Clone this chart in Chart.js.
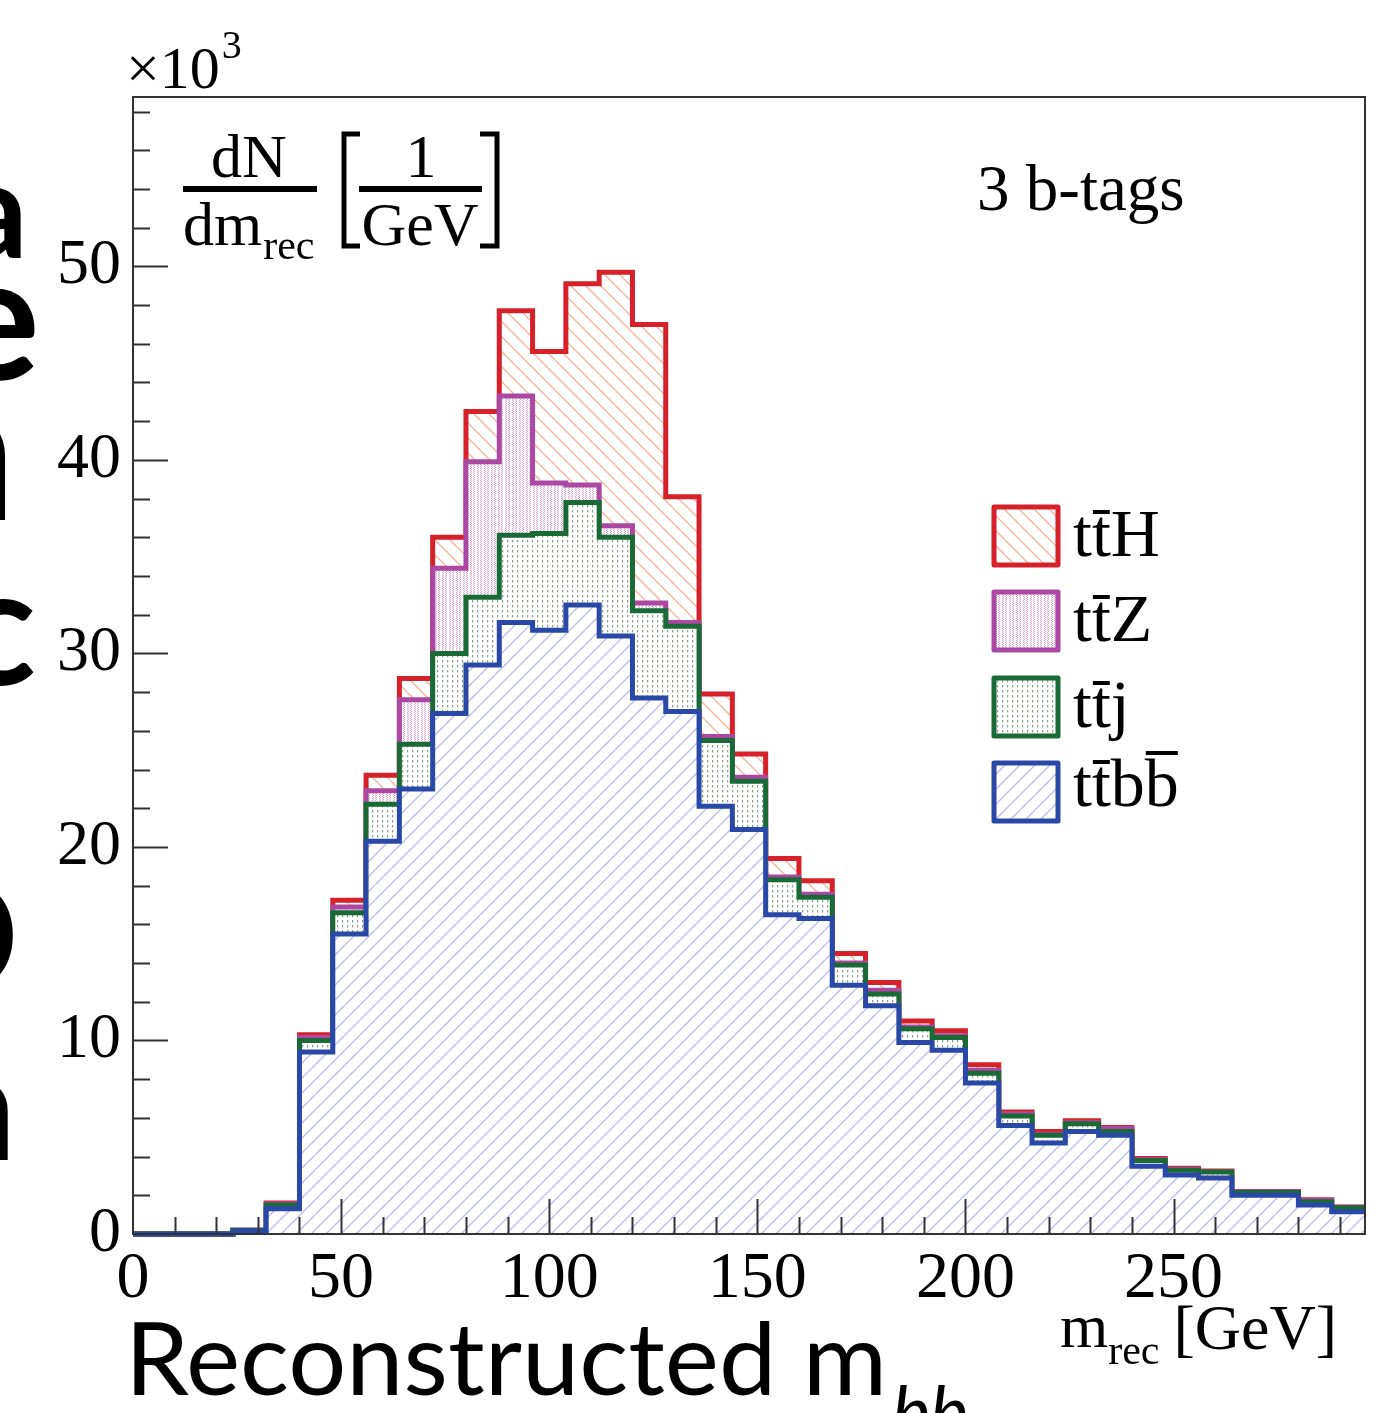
<!DOCTYPE html>
<html>
<head>
<meta charset="utf-8">
<script src="https://cdn.jsdelivr.net/npm/chart.js@4.4.1/dist/chart.umd.min.js"></script>
<style>
html, body { margin: 0; padding: 0; background: #fff; }
#wrap { width: 1387px; height: 1413px; position: relative; }
</style>
</head>
<body>
<div id="wrap"><canvas id="histo"></canvas></div>
<script>
// bin edges of m_rec in GeV (8 GeV bins)
const binEdges = [0, 8, 16, 24, 32, 40, 48, 56, 64, 72, 80, 88, 96, 104, 112, 120, 128, 136, 144,
    152, 160, 168, 176, 184, 192, 200, 208, 216, 224, 232, 240, 248, 256, 264, 272, 280, 288, 296];

// events per bin, x10^3 (each process on its own, they are stacked by the chart)
const ttbbValues = [0, 0, 0, 0.15, 1.3, 9.4, 15.5, 20.3, 23.0, 26.9, 29.4, 31.6, 31.2, 32.5, 30.9, 27.7, 27.0, 22.1,
    20.9, 16.5, 16.3, 12.85, 11.8, 9.9, 9.5, 7.8, 5.6, 4.7, 5.3, 5.1, 3.5, 3.05, 2.9, 2.0, 2.0, 1.5, 1.15];
const ttjValues = [0, 0, 0, 0.05, 0.2, 0.6, 1.1, 1.9, 2.3, 3.1, 3.5, 4.5, 5.0, 5.3, 5.1, 4.5, 4.4, 3.4,
    2.5, 1.8, 1.1, 1.05, 0.6, 0.7, 0.65, 0.5, 0.5, 0.4, 0.4, 0.2, 0.3, 0.25, 0.3, 0.15, 0.15, 0.17, 0.2];
const ttZValues = [0, 0, 0, 0, 0.05, 0.15, 0.3, 0.7, 2.3, 4.4, 7.0, 7.2, 2.6, 0.9, 0.6, 0.4, 0.2, 0.2,
    0.2, 0.15, 0.15, 0.1, 0.2, 0.1, 0.1, 0.15, 0.1, 0.05, 0.05, 0.15, 0.05, 0.05, 0.02, 0.03, 0.03, 0.08, 0.03];
const ttHValues = [0, 0, 0, 0, 0.05, 0.15, 0.35, 0.8, 1.1, 1.6, 2.6, 4.4, 6.8, 10.4, 13.1, 14.4, 6.5, 2.2,
    1.2, 0.95, 0.7, 0.5, 0.4, 0.3, 0.25, 0.3, 0.1, 0.15, 0.1, 0.05, 0.05, 0.05, 0.03, 0.02, 0.02, 0.02, 0.02];

const xTickLabels = [0, 50, 100, 150, 200, 250];
const yTickLabels = [0, 10, 20, 30, 40, 50];

const SERIF = '"Liberation Serif", "Times New Roman", serif';

// fill patterns
function tile(w, h, draw) {
    const c = document.createElement('canvas');
    c.width = w; c.height = h;
    const g = c.getContext('2d');
    g.fillStyle = '#fff';
    g.fillRect(0, 0, w, h);
    draw(g);
    return g.createPattern(c, 'repeat');
}

function hatch(color, dir) {
    const n = 15;
    return tile(n, n, g => {
        g.strokeStyle = color;
        g.lineWidth = 1.3;
        g.beginPath();
        for (const o of [-n, 0, n]) {
            if (dir > 0) { g.moveTo(o, n); g.lineTo(o + n, 0); }
            else { g.moveTo(o, 0); g.lineTo(o + n, n); }
        }
        g.stroke();
    });
}

const ttbbFill = hatch('rgb(185,188,240)', 1);
const ttHFill = hatch('rgb(250,178,150)', -1);
const ttjFill = tile(5, 5, g => {
    g.fillStyle = 'rgb(135,158,135)';
    g.fillRect(2, 0, 1.2, 2.4);
});
const ttZFill = tile(7, 6, g => {
    g.fillStyle = 'rgb(222,160,212)';
    [[1, 0], [2, 1], [1, 2], [2, 3], [1, 4], [2, 5], [4, 0], [5, 1], [4, 2], [5, 3], [4, 4], [5, 5]]
        .forEach(p => g.fillRect(p[0], p[1], 1, 1));
});

// bottom of the stack first so its outline is drawn on top
const series = [
    { label: 'tt̄bb̄', values: ttbbValues, color: 'rgb(42,72,166)', fill: ttbbFill,
      text: [['t', 0], ['t', 1], ['b', 0], ['b', 1]] },
    { label: 'tt̄j', values: ttjValues, color: 'rgb(26,106,56)', fill: ttjFill,
      text: [['t', 0], ['t', 1], ['j', 0]] },
    { label: 'tt̄Z', values: ttZValues, color: 'rgb(170,72,162)', fill: ttZFill,
      text: [['t', 0], ['t', 1], ['Z', 0]] },
    { label: 'tt̄H', values: ttHValues, color: 'rgb(214,32,42)', fill: ttHFill,
      text: [['t', 0], ['t', 1], ['H', 0]] },
];

function txt(ctx, s, x, y, size, opts = {}) {
    ctx.font = (opts.style || '') + ' ' + size + 'px ' + (opts.family || SERIF);
    ctx.textAlign = opts.align || 'left';
    ctx.textBaseline = 'alphabetic';
    ctx.fillStyle = opts.color || '#000';
    ctx.fillText(s, x, y);
    return ctx.measureText(s).width;
}

const frameAndTicks = {
    id: 'frameAndTicks',
    afterDatasetsDraw(chart) {
        const { ctx, chartArea: a, scales: { x, y } } = chart;
        ctx.save();
        ctx.strokeStyle = '#333';
        ctx.lineWidth = 2;
        ctx.strokeRect(a.left, a.top, a.right - a.left, a.bottom - a.top);
        ctx.beginPath();
        for (let v = 10; v < 296; v += 10) {
            const px = Math.round(x.getPixelForValue(v)) + 0.5;
            const len = v % 50 === 0 ? 35 : 17;
            ctx.moveTo(px, a.bottom);
            ctx.lineTo(px, a.bottom - len);
        }
        for (let v = 2; v < 58.75; v += 2) {
            const py = Math.round(y.getPixelForValue(v)) + 0.5;
            const len = v % 10 === 0 ? 35 : 17;
            ctx.moveTo(a.left, py);
            ctx.lineTo(a.left + len, py);
        }
        ctx.stroke();
        ctx.restore();
    }
};

const texts = {
    id: 'texts',
    afterDraw(chart) {
        const ctx = chart.ctx;
        ctx.save();

        // x10^3
        const w = txt(ctx, '×10', 126, 88, 60);
        txt(ctx, '3', 126 + w + 2, 58, 40);

        // dN/dm_rec [1/GeV]
        txt(ctx, 'dN', 249, 177, 62, { align: 'center' });
        ctx.fillRect(183, 186, 134, 6);
        const dmW = txt(ctx, 'dm', 183, 245, 62);
        txt(ctx, 'rec', 183 + dmW + 1, 259, 42);
        txt(ctx, '1', 421, 177, 62, { align: 'center' });
        ctx.fillRect(359, 186, 123, 6);
        txt(ctx, 'GeV', 420, 245, 62, { align: 'center' });
        ctx.lineWidth = 5;
        ctx.strokeStyle = '#000';
        ctx.beginPath();
        ctx.moveTo(360, 134); ctx.lineTo(344, 134); ctx.lineTo(344, 246); ctx.lineTo(360, 246);
        ctx.moveTo(480, 134); ctx.lineTo(497, 134); ctx.lineTo(497, 246); ctx.lineTo(480, 246);
        ctx.stroke();

        txt(ctx, '3 b-tags', 977, 210, 65);

        // x axis title
        const mW = txt(ctx, 'm', 1060, 1347, 62);
        const rW = txt(ctx, 'rec', 1060 + mW, 1364, 42);
        txt(ctx, '[GeV]', 1060 + mW + rW + 14, 1349, 64);

        // legend
        const boxTops = [507, 592, 678, 763];
        const baselines = [556, 641, 727, 806];
        series.slice().reverse().forEach((s, i) => {
            const top = boxTops[i];
            ctx.fillStyle = s.fill;
            ctx.fillRect(994, top, 64, 58);
            ctx.strokeStyle = s.color;
            ctx.lineWidth = 5;
            ctx.lineJoin = 'round';
            ctx.strokeRect(994, top, 64, 58);
            let xx = 1073;
            s.text.forEach(([ch, bar]) => {
                ctx.font = '68px ' + SERIF;
                const m = ctx.measureText(ch);
                txt(ctx, ch, xx, baselines[i], 68);
                if (bar) {
                    ctx.fillStyle = '#000';
                    ctx.fillRect(xx + 1, baselines[i] - m.actualBoundingBoxAscent - 7, m.width - 2, 4);
                }
                xx += m.width;
            });
        });

        // slide text around the figure
        ctx.save();
        ctx.font = '100px Lato, "Open Sans", sans-serif';
        const recon = 'Reconstructed m';
        const natural = ctx.measureText(recon).width;
        ctx.translate(125, 1395);
        ctx.scale(762 / natural, 1);
        ctx.fillStyle = '#000';
        ctx.textAlign = 'left';
        ctx.fillText(recon, 0, 0);
        ctx.restore();
        txt(ctx, 'bb', 892, 1438, 72, { style: 'italic', family: 'Lato, "Open Sans", sans-serif' });

        const edgeGlyphs = [['a', 28, 258, 135], ['e', 40, 380, 175], ['n', 16, 520, 195],
            ['c', 36, 685, 165], ['o', 20, 990, 215], ['n', 16, 1160, 150]];
        edgeGlyphs.forEach(([ch, right, base, size]) => {
            txt(ctx, ch, right, base, size, { style: 'bold', family: 'Lato, "Open Sans", sans-serif', align: 'right' });
        });

        ctx.restore();
    }
};

new Chart(document.getElementById('histo'), {
    type: 'line',
    data: {
        datasets: series.map(s => ({
            label: s.label,
            data: binEdges.map((e, i) => ({ x: e, y: s.values[Math.min(i, s.values.length - 1)] })),
            stepped: true,
            borderColor: s.color,
            borderWidth: 5,
            backgroundColor: s.fill,
            fill: 'origin',
            pointRadius: 0,
            borderJoinStyle: 'miter',
            borderCapStyle: 'butt',
            clip: 4
        }))
    },
    options: {
        responsive: true,
        maintainAspectRatio: false,
        animation: false,
        events: [],
        layout: { padding: { top: 97, right: 22, left: 0, bottom: 0 } },
        plugins: { legend: { display: false }, tooltip: { enabled: false } },
        scales: {
            x: {
                type: 'linear',
                min: 0,
                max: 296,
                grid: { display: false, drawTicks: false },
                border: { display: false },
                afterFit: s => { s.height = 179; },
                afterBuildTicks: s => { s.ticks = xTickLabels.map(v => ({ value: v })); },
                ticks: { font: { family: SERIF, size: 66 }, color: '#000', padding: 6, maxRotation: 0, autoSkip: false }
            },
            y: {
                stacked: true,
                min: 0,
                max: 58.75,
                grid: { display: false, drawTicks: false },
                border: { display: false },
                afterFit: s => { s.width = 133; },
                afterBuildTicks: s => { s.ticks = yTickLabels.map(v => ({ value: v })); },
                ticks: { font: { family: SERIF, size: 64 }, color: '#000', padding: 12, autoSkip: false }
            }
        }
    },
    plugins: [frameAndTicks, texts]
});
</script>
</body>
</html>
